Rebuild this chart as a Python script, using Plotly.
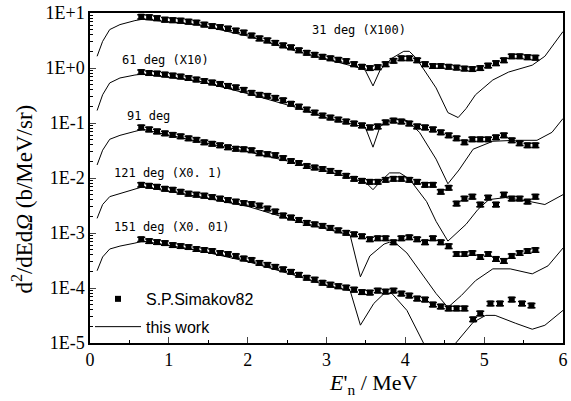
import math
import plotly.graph_objects as go

# ---------------- data (displayed values, already scaled) ----------------
E_exp = [0.65, 0.75, 0.85, 0.95, 1.05, 1.15, 1.25, 1.35, 1.45, 1.55,
         1.65, 1.75, 1.85, 1.95, 2.05, 2.15, 2.25, 2.35, 2.45, 2.55,
         2.65, 2.75, 2.85, 2.95, 3.05, 3.15, 3.25, 3.35, 3.45, 3.55,
         3.65, 3.75, 3.85, 3.95, 4.05, 4.15, 4.25, 4.35, 4.45, 4.55,
         4.65, 4.75, 4.85, 4.95, 5.05, 5.15, 5.25, 5.35, 5.45, 5.55, 5.65]

exp31 = [8.61, 8.44, 8.09, 7.60, 7.45, 7.30, 7.00, 6.72, 6.18, 5.81,
         5.58, 5.24, 4.82, 4.44, 3.92, 3.47, 3.19, 2.88, 2.59, 2.39,
         2.11, 1.90, 1.75, 1.61, 1.51, 1.42, 1.34, 1.18, 1.06, 1.00,
         1.04, 1.18, 1.36, 1.51, 1.51, 1.39, 1.18, 1.09, 1.09, 1.06,
         1.02, 0.98, 0.96, 1.00, 1.11, 1.23, 1.39, 1.64, 1.64, 1.58, 1.55]

exp61 = [0.847, 0.813, 0.796, 0.764, 0.733, 0.703, 0.661, 0.621, 0.583, 0.548,
         0.515, 0.474, 0.446, 0.402, 0.355, 0.327, 0.313, 0.288, 0.260, 0.225,
         0.199, 0.176, 0.155, 0.137, 0.126, 0.116, 0.107, 0.0984, 0.0906, 0.0834,
         0.0869, 0.103, 0.111, 0.107, 0.0984, 0.0869, 0.0834, 0.0767, 0.0678, 0.0598,
         0.0528, 0.0447, 0.0507, 0.0507, 0.0507, 0.0551, 0.0598, 0.0486, 0.0430, 0.0395, 0.0395]

exp91 = [0.0834, 0.0767, 0.0706, 0.0650, 0.0611, 0.0574, 0.0528, 0.0497, 0.0447, 0.0421,
         0.0395, 0.0364, 0.0342, 0.0335, 0.0321, 0.0284, 0.0272, 0.0261, 0.0231, 0.0204,
         0.0188, 0.0166, 0.0156, 0.0146, 0.0135, 0.0124, 0.0110, 0.00968, 0.00891, 0.00855,
         0.00855, 0.00929, 0.00968, 0.00968, 0.00929, 0.00855, 0.00755, 0.00755, 0.00565, 0.00667,
         0.00344, 0.00423, 0.00459, 0.00330, 0.00441, 0.00330, 0.00499, 0.00423, 0.00423, 0.00373, 0.00459]

exp121 = [0.00755, 0.00725, 0.00695, 0.00640, 0.00614, 0.00565, 0.00520, 0.00499, 0.00479, 0.00450,
          0.00423, 0.00397, 0.00373, 0.00351, 0.00337, 0.00316, 0.00279, 0.00247, 0.00209, 0.00192,
          0.00173, 0.00153, 0.00144, 0.00135, 0.00124, 0.00112, 0.00101, 0.000950, 0.000875, 0.000773,
          0.000805, 0.000805, 0.000681, 0.000805, 0.000839, 0.000773, 0.000681, 0.000805, 0.000681, 0.000577,
          0.000416, 0.000416, 0.000434, 0.000367, 0.000416, 0.000338, 0.000311, 0.000383, 0.000434, 0.000471, 0.000491]

E_exp151 = [0.65, 0.75, 0.85, 0.95, 1.05, 1.15, 1.25, 1.35, 1.45, 1.55,
            1.65, 1.75, 1.85, 1.95, 2.05, 2.15, 2.25, 2.35, 2.45, 2.55,
            2.65, 2.75, 2.85, 2.95, 3.05, 3.15, 3.25, 3.35, 3.45, 3.55,
            3.65, 3.75, 3.85, 3.95, 4.05, 4.15, 4.25, 4.35, 4.45, 4.55,
            4.65, 4.75, 4.86, 4.95, 5.08, 5.20, 5.35, 5.48, 5.60]
exp151 = [0.000773, 0.000713, 0.000684, 0.000656, 0.000604, 0.000579, 0.000556, 0.000512, 0.000491, 0.000471,
          0.000434, 0.000416, 0.000383, 0.000345, 0.000324, 0.000286, 0.000264, 0.000243, 0.000219, 0.000197,
          0.000174, 0.000154, 0.000142, 0.000125, 0.000115, 0.000108, 0.000102, 0.0000935, 0.0000843, 0.0000826,
          0.0000897, 0.0000861, 0.0000897, 0.0000793, 0.0000730, 0.0000644, 0.0000618, 0.0000502, 0.0000462, 0.0000426,
          0.0000426, 0.0000426, 0.0000269, 0.0000345, 0.0000524, 0.0000524, 0.0000618, 0.0000524, 0.0000482]

# calculation ("this work")
th31_x = [0.09, 0.16, 0.25, 0.38, 0.57, 0.67, 1.38, 2.01, 2.63, 3.01, 3.45, 3.49, 3.59, 3.68,
          3.83, 3.98, 4.05, 4.14, 4.39, 4.54, 4.67, 4.77, 4.89, 5.11, 5.31, 5.61, 5.77, 6.0]
th31_y = [1.64, 3.06, 5.02, 6.18, 7.30, 7.76, 6.1, 3.8, 2.0, 1.45, 0.98, 0.92, 0.474, 0.92,
          1.51, 2.02, 2.02, 1.51, 0.436, 0.155, 0.126, 0.183, 0.327, 0.608, 0.847, 1.13, 1.64, 4.62]

th61_x = [0.09, 0.16, 0.25, 0.38, 0.57, 0.67, 1.38, 2.01, 2.63, 3.01, 3.45, 3.49, 3.59, 3.68,
          3.79, 3.89, 4.02, 4.18, 4.39, 4.54, 4.68, 4.86, 5.11, 5.40, 5.67, 5.86, 6.0]
th61_y = [0.169, 0.327, 0.537, 0.661, 0.748, 0.780, 0.58, 0.34, 0.19, 0.122, 0.0869, 0.085, 0.0364, 0.087,
          0.107, 0.116, 0.111, 0.0678, 0.0221, 0.00787, 0.0140, 0.0335, 0.0467, 0.0486, 0.0486, 0.0678, 0.121]

th91_x = [0.09, 0.16, 0.25, 0.38, 0.57, 0.67, 1.38, 2.01, 2.63, 3.01, 3.45, 3.49, 3.59, 3.68,
          3.80, 3.93, 4.05, 4.27, 4.39, 4.54, 4.77, 4.92, 5.06, 5.27, 5.52, 5.77, 6.0]
th91_y = [0.0173, 0.0321, 0.0507, 0.0598, 0.0706, 0.0767, 0.046, 0.030, 0.0185, 0.0133, 0.0087, 0.00855, 0.00614, 0.00855,
          0.0124, 0.0124, 0.00968, 0.00373, 0.00163, 0.000713, 0.00144, 0.00268, 0.00406, 0.00441, 0.00389, 0.00330, 0.00499]

th121_x = [0.09, 0.16, 0.25, 0.38, 0.57, 0.67, 1.38, 2.01, 2.63, 3.01, 3.30, 3.43, 3.55, 3.64,
           3.73, 3.80, 3.89, 4.02, 4.20, 4.39, 4.54, 4.71, 4.89, 5.11, 5.33, 5.61, 5.81, 6.0]
th121_y = [0.00185, 0.00330, 0.00459, 0.00520, 0.00640, 0.00695, 0.00459, 0.00303, 0.00163, 0.00117, 0.000912, 0.000160, 0.000383, 0.000491,
           0.000630, 0.000681, 0.000630, 0.000434, 0.000189, 0.0000793, 0.0000444, 0.0000730, 0.000136, 0.000223, 0.000223, 0.000181, 0.000253, 0.000533]

th151_x = [0.09, 0.16, 0.25, 0.38, 0.57, 0.67, 1.38, 2.01, 2.63, 3.01, 3.30, 3.43, 3.60,
           3.73, 3.83, 4.02, 4.23, 4.43, 4.64, 4.86, 5.02, 5.14, 5.40, 5.61, 5.77, 6.0]
th151_y = [0.000206, 0.000367, 0.000512, 0.000579, 0.000656, 0.000713, 0.00048, 0.00030, 0.000165, 0.00011, 0.0000897, 0.0000211, 0.0000524,
           0.0000793, 0.0000793, 0.0000392, 0.0000100, 0.00000455, 0.0000100, 0.0000238, 0.0000318, 0.0000318, 0.0000228, 0.0000178, 0.0000210, 0.0000392]

curve_labels = ["31 deg (X100)", "61 deg (X10)", "91 deg", "121 deg (X0. 1)", "151 deg (X0. 01)"]
label_x = [2.785, 0.376, 0.44, 0.276, 0.276]
label_y = [4.9, 1.4, 0.135, 0.0125, 0.00128]

ytick_vals = [1e1, 1e0, 1e-1, 1e-2, 1e-3, 1e-4, 1e-5]
ytick_text = ["1E+1", "1E+0", "1E-1", "1E-2", "1E-3", "1E-4", "1E-5"]
xtick_vals = [0, 1, 2, 3, 4, 5, 6]

# ---------------- figure ----------------
fig = go.Figure()

exp_sets = [(E_exp, exp31), (E_exp, exp61), (E_exp, exp91), (E_exp, exp121), (E_exp151, exp151)]
th_sets = [(th31_x, th31_y), (th61_x, th61_y), (th91_x, th91_y), (th121_x, th121_y), (th151_x, th151_y)]

for tx, ty in th_sets:
    fig.add_trace(go.Scatter(x=tx, y=ty, mode="lines", line=dict(color="black", width=1),
                             showlegend=False, hoverinfo="skip"))
for ex, ey in exp_sets:
    fig.add_trace(go.Scatter(x=ex, y=ey, mode="markers",
                             marker=dict(symbol="square", size=6, color="black"),
                             error_y=dict(type="percent", value=9, color="black", thickness=1.5, width=4),
                             showlegend=False))

# legend-only entries
fig.add_trace(go.Scatter(x=[None], y=[None], mode="markers", name="S.P.Simakov82",
                         marker=dict(symbol="square", size=6, color="black"), legendgroup="a"))
fig.add_trace(go.Scatter(x=[None], y=[None], mode="lines", name="this work",
                         line=dict(color="black", width=1), legendgroup="b"))

for txt, lx, ly in zip(curve_labels, label_x, label_y):
    fig.add_annotation(x=lx, y=math.log10(ly), text=txt, showarrow=False,
                       xanchor="left", yanchor="middle",
                       font=dict(family="DejaVu Sans Mono", size=12, color="black"))

# axis titles as annotations for exact placement
fig.add_annotation(xref="paper", yref="paper", x=-0.142, y=0.437, textangle=-90,
                   xanchor="center", yanchor="middle",
                   text="d<sup>2</sup>/dEd<i>Ω</i> (b/MeV/sr)", showarrow=False,
                   font=dict(family="Liberation Serif", size=23, color="black"))
fig.add_annotation(xref="paper", yref="paper", x=0.60, y=-0.125,
                   xanchor="center", yanchor="middle",
                   text="<i>E</i>'<sub>n</sub> / MeV", showarrow=False,
                   font=dict(family="Liberation Serif", size=22, color="black"))

fig.update_xaxes(range=[0, 6], tickvals=xtick_vals, ticks="inside", ticklen=6, tickwidth=1.2,
                 showline=True, linecolor="black", linewidth=1.5, mirror=True,
                 showgrid=False, zeroline=False, ticklabeloverflow="allow",
                 minor=dict(ticks="inside", ticklen=3, dtick=0.5, tickcolor="black"),
                 tickfont=dict(family="Liberation Serif", size=18, color="black"))
fig.update_yaxes(type="log", range=[-5, 1.002], tickvals=ytick_vals, ticktext=ytick_text,
                 ticks="inside", ticklen=6, tickwidth=1.2,
                 showline=True, linecolor="black", linewidth=1.5, mirror=True,
                 showgrid=False, zeroline=False, ticklabeloverflow="allow",
                 minor=dict(ticks="inside", ticklen=3, tickcolor="black", dtick="D1"),
                 tickfont=dict(family="Liberation Serif", size=18, color="black"))

fig.update_layout(
    width=571, height=401,
    margin=dict(l=90, r=3, t=9, b=58),
    paper_bgcolor="white", plot_bgcolor="white",
    legend=dict(x=0.0, y=0.185, xanchor="left", yanchor="top", itemwidth=46,
                bgcolor="rgba(0,0,0,0)", traceorder="grouped", tracegroupgap=4,
                font=dict(family="Liberation Sans", size=16, color="black")),
)

fig.write_html("out.html")
